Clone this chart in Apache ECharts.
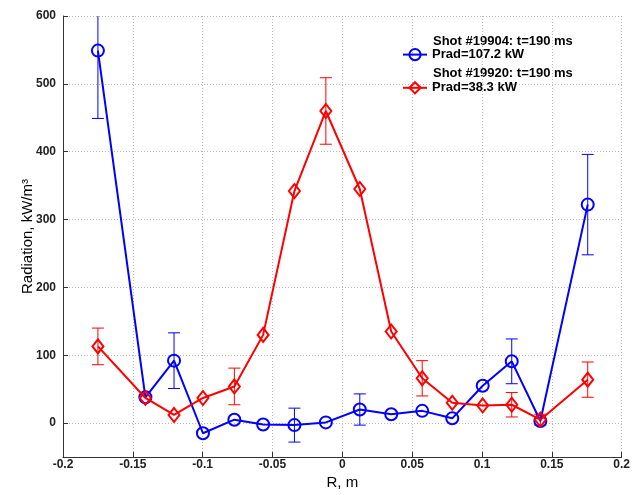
<!DOCTYPE html>
<html>
<head>
<meta charset="utf-8">
<script src="https://cdn.jsdelivr.net/npm/echarts@6/dist/echarts.min.js"></script>
<style>
  html, body { margin: 0; padding: 0; background: #fff; }
  #chart { width: 633px; height: 495px; }
</style>
</head>
<body>
<div id="chart"></div>
<script>
// Chord radii (m) of the bolometer channels
const chordR = [-0.175, -0.141, -0.1205, -0.0998, -0.0773, -0.0567, -0.0343, -0.0118,
                0.0125, 0.035, 0.0572, 0.0787, 0.1005, 0.1213, 0.1418, 0.1757];

// Shot #19904, t = 190 ms: local radiation (kW/m^3) and error half-widths
const rad19904 = [549, 38, 92, -15, 5, -2, -3, 1, 20, 13, 18, 7, 55, 91, 3, 322];
const err19904 = [100, 0, 41, 0, 0, 0, 25, 0, 23, 0, 0, 0, 0, 33, 0, 74];

// Shot #19920, t = 190 ms
const rad19920 = [113, 37, 12, 37, 54, 130, 342, 460, 345, 135, 66, 30, 26, 27, 5, 64];
const err19920 = [27, 0, 0, 0, 27, 0, 0, 49, 0, 0, 26, 0, 0, 18, 8, 26];

const yTicks = [0, 100, 200, 300, 400, 500, 600];
const shotTitles = ['Shot #19904: t=190 ms', 'Shot #19920: t=190 ms'];
const pradNames = ['Prad=107.2 kW', 'Prad=38.3 kW'];

const BLUE = '#0000ff';
const RED = '#ff0000';
const FONT = '"Liberation Sans", Arial, Helvetica, sans-serif';

function pairs(xs, ys) { return xs.map((x, i) => [x, ys[i]]); }
function errRows(xs, ys, es) {
  return xs.map((x, i) => [x, ys[i], es[i]]).filter(r => r[2] > 0);
}

function errorBarSeries(rows, color) {
  return {
    type: 'custom',
    clip: true,
    silent: true,
    z: 1,
    data: rows,
    renderItem: function (params, api) {
      const x = api.value(0), y = api.value(1), e = api.value(2);
      const top = api.coord([x, y + e]);
      const bot = api.coord([x, y - e]);
      const half = 6;
      const style = { stroke: color, lineWidth: 1 };
      return {
        type: 'group',
        children: [
          { type: 'line', shape: { x1: top[0], y1: top[1], x2: bot[0], y2: bot[1] }, style: style },
          { type: 'line', shape: { x1: top[0] - half, y1: top[1], x2: top[0] + half, y2: top[1] }, style: style },
          { type: 'line', shape: { x1: bot[0] - half, y1: bot[1], x2: bot[0] + half, y2: bot[1] }, style: style }
        ]
      };
    }
  };
}

const chart = echarts.init(document.getElementById('chart'), null, { renderer: 'canvas' });

chart.setOption({
  backgroundColor: '#ffffff',
  animation: false,
  textStyle: { fontFamily: FONT },
  grid: { left: 63, right: 6, top: 16, bottom: 34, containLabel: false },
  legend: {
    orient: 'vertical',
    left: 402,
    top: 48,
    padding: 0,
    itemGap: 20,
    itemWidth: 24,
    itemHeight: 14,
    data: pradNames,
    textStyle: { fontFamily: FONT, fontSize: 13, fontWeight: 'bold', color: '#000' }
  },
  graphic: [
    { type: 'text', left: 433, top: 35, style: { text: shotTitles[0], font: 'bold 13px ' + FONT, fill: '#000' } },
    { type: 'text', left: 433, top: 67, style: { text: shotTitles[1], font: 'bold 13px ' + FONT, fill: '#000' } }
  ],
  xAxis: {
    type: 'value',
    min: -0.2,
    max: 0.2,
    interval: 0.05,
    name: 'R, m',
    nameLocation: 'middle',
    nameGap: 18,
    nameMoveOverlap: false,
    nameTextStyle: { fontFamily: FONT, fontSize: 15, color: '#000' },
    axisLine: { onZero: false, lineStyle: { color: '#333', width: 1 } },
    axisTick: { inside: true, length: 5, lineStyle: { color: '#333' } },
    axisLabel: {
      margin: 2,
      fontFamily: FONT, fontSize: 12, fontWeight: 'bold', color: '#222',
      formatter: v => String(Math.round(v * 100) / 100)
    },
    splitLine: { show: true, lineStyle: { type: [1, 2], color: '#b8b8b8', width: 1 } }
  },
  yAxis: {
    type: 'value',
    min: -50,
    max: 600,
    interval: 100,
    name: 'Radiation, kW/m³',
    nameLocation: 'middle',
    nameGap: 28,
    nameMoveOverlap: false,
    nameTextStyle: { fontFamily: FONT, fontSize: 15, color: '#000' },
    axisLine: { show: true, onZero: false, lineStyle: { color: '#333', width: 1 } },
    axisTick: { inside: true, length: 5, customValues: yTicks, lineStyle: { color: '#333' } },
    axisLabel: {
      margin: 7,
      customValues: yTicks,
      fontFamily: FONT, fontSize: 12, fontWeight: 'bold', color: '#222'
    },
    splitLine: { show: true, customValues: yTicks, lineStyle: { type: [1, 2], color: '#b8b8b8', width: 1 } }
  },
  series: [
    {
      name: pradNames[0],
      type: 'line',
      data: pairs(chordR, rad19904),
      z: 3,
      symbol: 'circle',
      symbolSize: 12,
      lineStyle: { color: BLUE, width: 2 },
      itemStyle: { color: 'rgba(255,255,255,0)', borderColor: BLUE, borderWidth: 2 },
      emphasis: { disabled: true }
    },
    {
      name: pradNames[1],
      type: 'line',
      data: pairs(chordR, rad19920),
      z: 4,
      symbol: 'diamond',
      symbolSize: [11, 14],
      lineStyle: { color: RED, width: 2 },
      itemStyle: { color: 'rgba(255,255,255,0)', borderColor: RED, borderWidth: 2 },
      emphasis: { disabled: true }
    },
    errorBarSeries(errRows(chordR, rad19904, err19904), BLUE),
    errorBarSeries(errRows(chordR, rad19920, err19920), RED)
  ]
});
</script>
</body>
</html>
